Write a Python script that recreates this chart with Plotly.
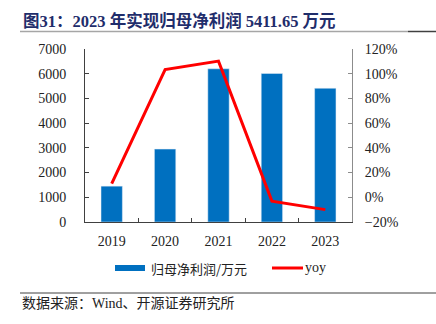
import plotly.graph_objects as go

years = ["2019", "2020", "2021", "2022", "2023"]
profit = [1450, 2950, 6200, 6010, 5411.65]
yoy = [11.0, 103.4, 110.2, -3.1, -10.0]

W, H = 436, 324
L, R, T, B = 85, 352, 49, 222


def px(x):
    return (x - L) / (R - L)


def py(y):
    return (B - y) / (B - T)


serif = "Liberation Serif, Times New Roman, Noto Sans CJK SC"
cjk = "Noto Sans CJK SC"

fig = go.Figure()
fig.add_trace(go.Bar(x=years, y=profit, marker_color="#0070C0", width=0.4,
                     name="归母净利润/万元", showlegend=False))
fig.add_trace(go.Scatter(x=years, y=yoy, yaxis="y2", mode="lines",
                         line=dict(color="#FF0000", width=3), name="yoy",
                         showlegend=False))

fig.update_layout(
    width=W, height=H,
    margin=dict(l=L, r=W - R, t=T, b=H - B),
    paper_bgcolor="white", plot_bgcolor="white",
    font=dict(family=serif, size=14, color="#222222"),
    xaxis=dict(type="category", range=[-0.5, 4.5], showline=True,
               linecolor="#404040", linewidth=1, ticks="inside", ticklen=4,
               tickcolor="#404040", tickson="boundaries", showgrid=False,
               ticklabelstandoff=6,
               tickfont=dict(family=serif, size=14)),
    yaxis=dict(range=[0, 7000], dtick=1000, showline=True, linecolor="#404040",
               linewidth=1, ticks="inside", ticklen=4, tickcolor="#404040",
               showgrid=False, zeroline=False, ticklabelstandoff=15,
               tickfont=dict(family=serif, size=14)),
    yaxis2=dict(range=[-20, 120], dtick=20, ticksuffix="%", overlaying="y",
                side="right", showline=True, linecolor="#8C8C8C", linewidth=1,
                ticks="inside", ticklen=4, tickcolor="#8C8C8C", showgrid=False,
                zeroline=False, ticklabelstandoff=9,
                tickfont=dict(family=serif, size=14)),
)

shapes = []
# title underline
shapes.append(dict(type="line", xref="paper", yref="paper", x0=px(20), x1=px(408),
                   y0=py(31.5), y1=py(31.5), line=dict(color="#A6A6A6", width=1.5)))
shapes.append(dict(type="line", xref="paper", yref="paper", x0=px(408), x1=px(436),
                   y0=py(31.5), y1=py(31.5), line=dict(color="#404040", width=1.5)))
# source line
shapes.append(dict(type="line", xref="paper", yref="paper", x0=px(20), x1=px(436),
                   y0=py(293), y1=py(293), line=dict(color="#404040", width=1)))
# legend symbols
shapes.append(dict(type="rect", xref="paper", yref="paper", x0=px(115), x1=px(145),
                   y0=py(271), y1=py(265), fillcolor="#0070C0", line=dict(width=0)))
shapes.append(dict(type="line", xref="paper", yref="paper", x0=px(272), x1=px(303),
                   y0=py(268), y1=py(268), line=dict(color="#FF0000", width=3)))

annotations = [
    dict(text="<b>图31：2023 年实现归母净利润 5411.65 万元</b>", xref="paper", yref="paper",
         x=px(21), y=py(21), xanchor="left", yanchor="middle", showarrow=False,
         font=dict(family=serif, size=16.5, color="#1F2D6B")),
    dict(text="归母净利润/万元", xref="paper", yref="paper", x=px(149), y=py(268),
         xanchor="left", yanchor="middle", showarrow=False,
         font=dict(family=cjk, size=13, color="#222222")),
    dict(text="yoy", xref="paper", yref="paper", x=px(303), y=py(267),
         xanchor="left", yanchor="middle", showarrow=False,
         font=dict(family=serif, size=14, color="#222222")),
    dict(text="数据来源：Wind、开源证券研究所", xref="paper", yref="paper",
         x=px(20), y=py(303), xanchor="left", yanchor="middle", showarrow=False,
         font=dict(family=serif, size=14, color="#222222")),
]
fig.update_layout(shapes=shapes, annotations=annotations)

fig.write_html("out.html")
